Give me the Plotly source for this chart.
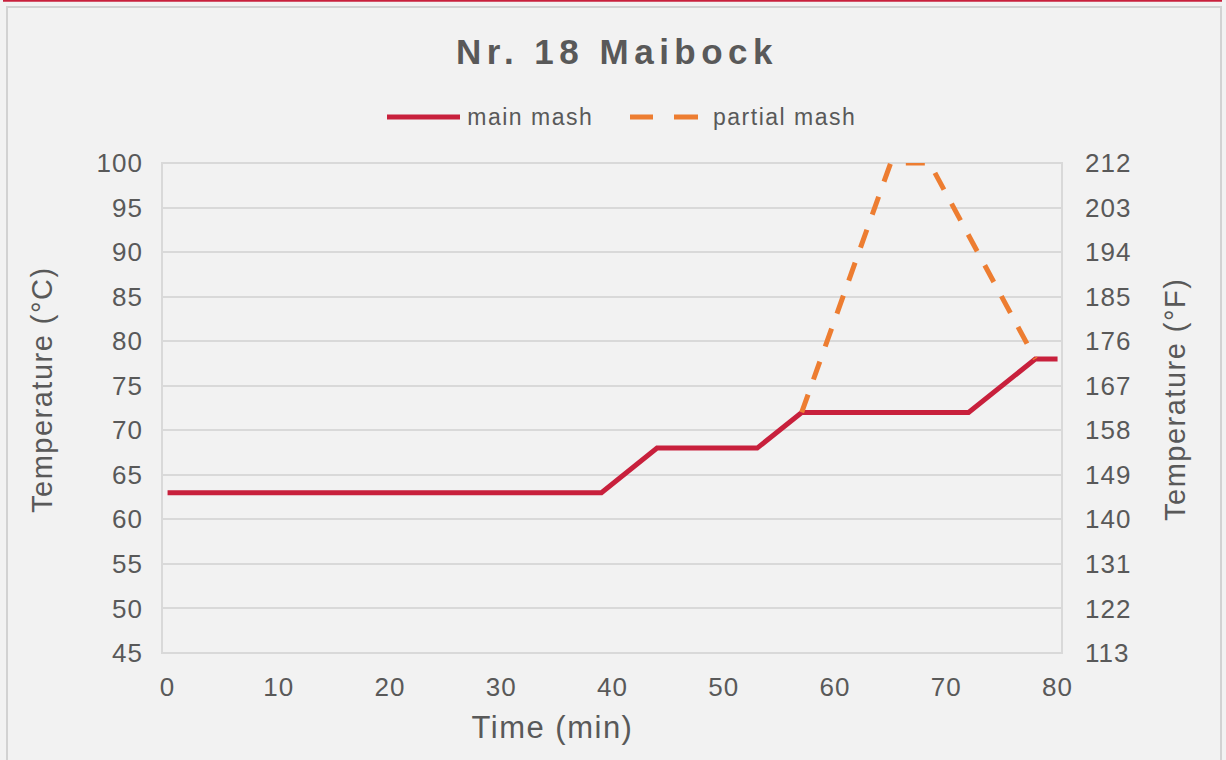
import plotly.graph_objects as go

# Data
main_time = [0, 39, 44, 53, 57, 72, 78, 80]
main_temp = [63, 63, 68, 68, 72, 72, 78, 78]
partial_time = [57, 65, 68.5, 78]
partial_temp = [72, 100, 100, 78]

y_ticks_c = list(range(45, 101, 5))
y_ticks_f = list(range(113, 213, 9))
x_ticks = list(range(0, 81, 10))

series_names = ["main mash", "partial mash"]

FONT = "Liberation Sans, Arial, sans-serif"
GREY = "#595959"
RED = "#c8203c"
ORANGE = "#ed7d31"
BG = "#f2f2f2"
GRID = "#d9d9d9"

W, H = 1226, 760
ml, mr, mt, mb = 162, 164, 163, 107
pw, ph = W - ml - mr, H - mt - mb


def px(x):
    return (x - ml) / pw


def py(y):
    return (H - mb - y) / ph


fig = go.Figure()
fig.add_trace(go.Scatter(x=main_time, y=main_temp, mode="lines", name=series_names[0],
                         line=dict(color=RED, width=5), showlegend=False))
fig.add_trace(go.Scatter(x=partial_time, y=partial_temp, mode="lines", name=series_names[1],
                         line=dict(color=ORANGE, width=5, dash="19px,16px"), showlegend=False))
# invisible trace for the right (°F) axis
fig.add_trace(go.Scatter(x=[0], y=[113], yaxis="y2", mode="markers",
                         marker=dict(opacity=0), showlegend=False, hoverinfo="skip"))

tick_font = dict(size=26, color=GREY, family=FONT)

annotations = [
    # legend labels
    dict(text=series_names[0], x=px(472), y=py(117), xanchor="left", yanchor="middle",
         font=dict(size=23, color=GREY)),
    dict(text=series_names[1], x=px(720), y=py(117), xanchor="left", yanchor="middle",
         font=dict(size=23, color=GREY)),
    # axis titles
    dict(text="Temperature (°C)", x=px(42), y=py(390), xanchor="center", yanchor="middle",
         textangle=-90, font=dict(size=29, color=GREY)),
    dict(text="Temperature (°F)", x=px(1175), y=py(400), xanchor="center", yanchor="middle",
         textangle=-90, font=dict(size=29, color=GREY)),
    dict(text="Time (min)", x=px(552), y=py(727), xanchor="center", yanchor="middle",
         font=dict(size=31, color=GREY)),
]
for a in annotations:
    a.update(xref="paper", yref="paper", showarrow=False)

shapes = [
    # plot area border
    dict(type="rect", xref="paper", yref="paper", x0=0, x1=1, y0=0, y1=1,
         line=dict(color=GRID, width=2), layer="below"),
    # outer frame
    dict(type="rect", xref="paper", yref="paper", x0=px(7), x1=px(1221), y0=py(770), y1=py(7),
         line=dict(color="#d2d2d2", width=2)),
    # top red line
    dict(type="line", xref="paper", yref="paper", x0=px(3), x1=px(1222), y0=py(0.8), y1=py(0.8),
         line=dict(color=RED, width=2)),
    # legend samples
    dict(type="line", xref="paper", yref="paper", x0=px(387), x1=px(460), y0=py(117), y1=py(117),
         line=dict(color=RED, width=5)),
    dict(type="line", xref="paper", yref="paper", x0=px(630), x1=px(653), y0=py(117), y1=py(117),
         line=dict(color=ORANGE, width=5)),
    dict(type="line", xref="paper", yref="paper", x0=px(674), x1=px(698), y0=py(117), y1=py(117),
         line=dict(color=ORANGE, width=5)),
]

fig.update_layout(
    width=W, height=H,
    paper_bgcolor=BG, plot_bgcolor=BG,
    margin=dict(l=ml, r=mr, t=mt, b=mb, autoexpand=False),
    font=dict(family=FONT, color=GREY),
    showlegend=False,
    title=dict(text="<b>Nr. 18 Maibock</b>", x=px(617), xanchor="center", xref="paper",
               y=1 - 52 / H, yanchor="middle",
               font=dict(size=35, color=GREY, family=FONT)),
    xaxis=dict(range=[-0.5, 80.4], tickvals=x_ticks, showgrid=False, zeroline=False,
               showline=False, ticks="", tickfont=tick_font, ticklabelstandoff=16,
               automargin=False),
    yaxis=dict(range=[45, 100], tickvals=y_ticks_c, showgrid=True, gridcolor=GRID, gridwidth=2,
               zeroline=False, showline=False, ticks="", tickfont=tick_font,
               ticklabelstandoff=18, automargin=False),
    yaxis2=dict(range=[113, 212], tickvals=y_ticks_f, overlaying="y", side="right",
                showgrid=False, zeroline=False, showline=False, ticks="",
                tickfont=tick_font, ticklabelstandoff=22, automargin=False),
    annotations=annotations,
    shapes=shapes,
)

post = """
document.body.style.margin = '0';
document.body.style.padding = '0';
document.querySelectorAll('.gtitle').forEach(function(t){ t.style.letterSpacing = '5.5px'; });
document.querySelectorAll('.xtick text, .ytick text, .y2tick text').forEach(function(t){ t.style.letterSpacing = '1px'; });
document.querySelectorAll('.annotation-text').forEach(function(t){ t.style.letterSpacing = '1.5px'; });
"""

fig.write_html("out.html", post_script=post, config={"displayModeBar": False})
